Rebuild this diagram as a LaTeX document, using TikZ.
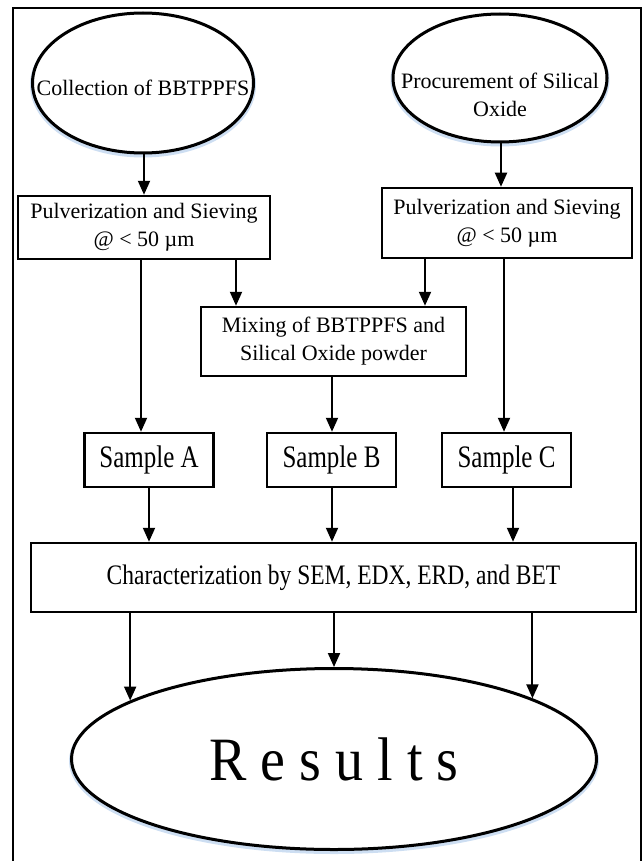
\documentclass[tikz,border=0pt]{standalone}
\usepackage{fontspec}
\setmainfont{Liberation Serif}
\usetikzlibrary{arrows.meta,shapes.geometric}
\definecolor{glow}{RGB}{205,222,242}
\begin{document}
\begin{tikzpicture}[x=1pt,y=-1pt,
  arr/.style={draw, line width=2pt, -{Triangle[length=14pt,width=12pt]}},
  oval/.style={ellipse, draw, line width=3pt, fill=white, inner sep=0pt,
    preaction={draw=glow, line width=5pt, transform canvas={yshift=-2pt}}},
  boxnode/.style={rectangle, draw, line width=2.5pt, fill=white, inner sep=0pt,
    align=center, font=\fontsize{22}{28}\selectfont},
  txt/.style={align=center, inner sep=0pt, font=\fontsize{22}{28}\selectfont},
  samp/.style={boxnode, minimum width=129pt, minimum height=54pt, font=\fontsize{25}{30}\selectfont}
]
\useasboundingbox (0,0) rectangle (644,861);
% outer frame
\draw[line width=2pt] (13,863) -- (13,8) -- (641,8) -- (641,863);

% ellipses
\node (e1) [oval, minimum width=221pt, minimum height=140pt] at (143,83) {};
\node (e1t) [txt] at (143,88) {Collection of BBTPPFS};
\node (e2) [oval, minimum width=214pt, minimum height=128pt] at (500,78) {};
\node (e2t) [txt] at (500,95) {Procurement of Silical\\Oxide};

% pulverization boxes
\node (p1) [boxnode, minimum width=252pt, minimum height=63pt] at (144,227.5) {Pulverization and Sieving\\@ \textless{} 50 µm};
\node (p2) [boxnode, minimum width=250pt, minimum height=70pt] at (507,223) {Pulverization and Sieving\\@ \textless{} 50 µm};

% mixing
\node (mix) [boxnode, minimum width=265pt, minimum height=69pt] at (333.5,341.5) {Mixing of BBTPPFS and\\Silical Oxide powder};

% samples
\node (sa) [samp] at (149,460) {\scalebox{1}[1.25]{Sample A}};
\node (sb) [samp] at (331.5,460) {\scalebox{1}[1.25]{Sample B}};
\node (sc) [samp] at (506.5,460) {\scalebox{1}[1.25]{Sample C}};

% characterization
\node (ch) [boxnode, minimum width=605pt, minimum height=69pt, font=\fontsize{23.5}{28}\selectfont] at (333.5,577.5) {\scalebox{1}[1.2]{Characterization by SEM, EDX, ERD, and BET}};

% results
\node (res) [oval, minimum width=525pt, minimum height=181pt] at (334,759) {};
\node (rest) [txt, font=\fontsize{56}{60}\selectfont] at (334,759) {\scalebox{1}[1.1]{R e s u l t s}};

% x positions of connectors
\coordinate (x1) at (141,0);
\coordinate (x2) at (236,0);
\coordinate (x3) at (425,0);
\coordinate (x4) at (504,0);
\coordinate (x5) at (332,0);
\coordinate (x6) at (149,0);
\coordinate (x7) at (513,0);
\coordinate (x8) at (144,0);
\coordinate (x9) at (501,0);

% connectors
\draw[arr] (e1.south -| x8) -- (p1.north -| x8);
\draw[arr] (e2.south -| x9) -- (p2.north -| x9);
\draw[arr] (p1.south -| x2) -- (mix.north -| x2);
\draw[arr] (p2.south -| x3) -- (mix.north -| x3);
\draw[arr] (p1.south -| x1) -- (sa.north -| x1);
\draw[arr] (mix.south -| x5) -- (sb.north -| x5);
\draw[arr] (p2.south -| x4) -- (sc.north -| x4);
\draw[arr] (sa.south -| x6) -- (ch.north -| x6);
\draw[arr] (sb.south -| x5) -- (ch.north -| x5);
\draw[arr] (sc.south -| x7) -- (ch.north -| x7);
\draw[arr] (ch.south -| res.164) -- (res.164);
\draw[arr] (ch.south -| res.north) -- (res.north);
\draw[arr] (ch.south -| res.17) -- (res.17);
\end{tikzpicture}
\end{document}
